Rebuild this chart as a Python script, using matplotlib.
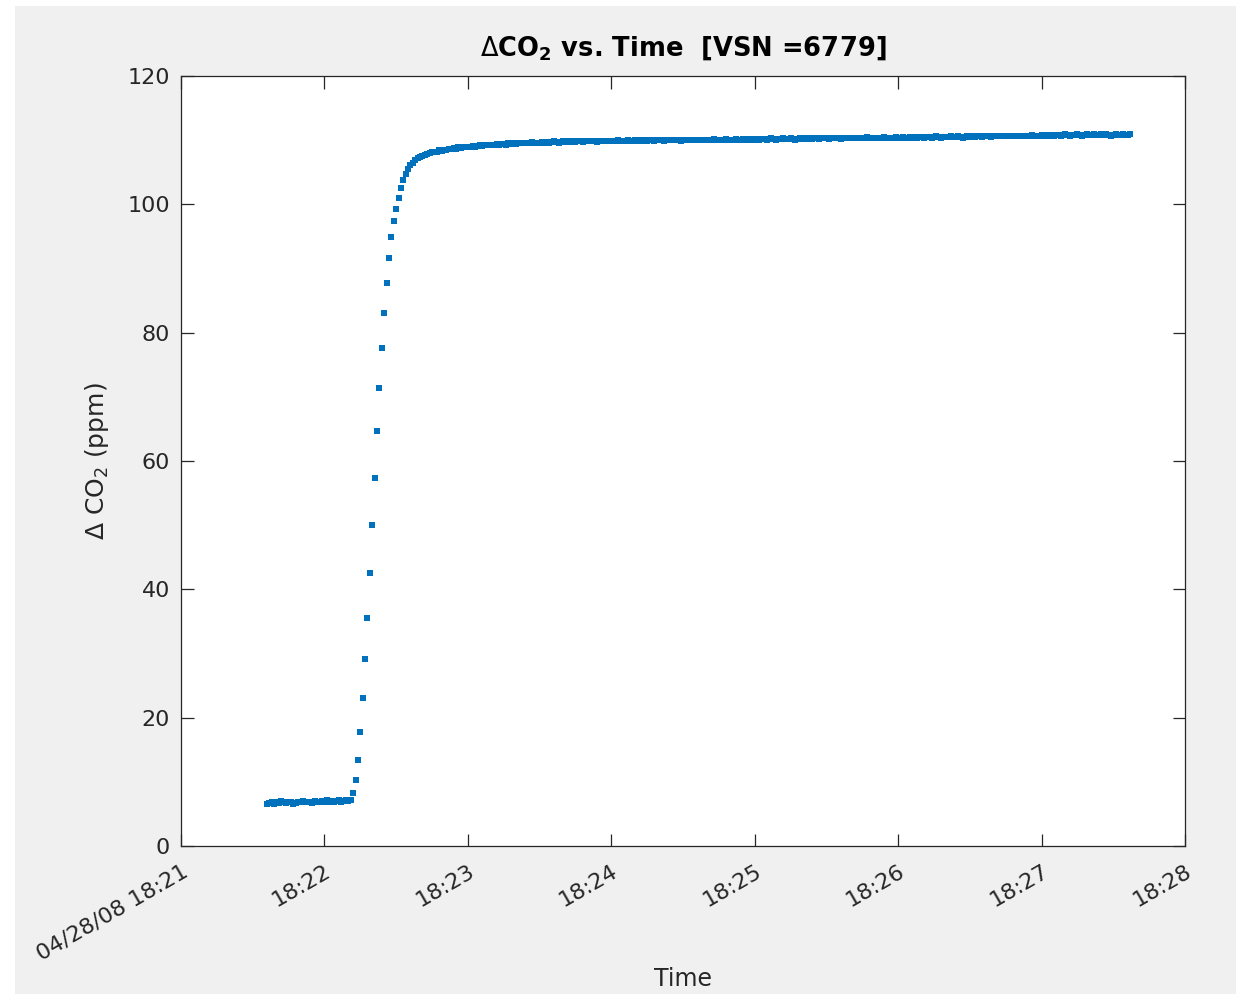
import pandas as pd
import matplotlib
matplotlib.use("Agg")
import matplotlib.pyplot as plt
import matplotlib.transforms as mtransforms
from matplotlib.patches import Rectangle

# sampling: one reading per second, first reading at 18:21:36
start_time = "2008-04-28 18:21:36"

baseline = [
    6.6, 6.7, 6.8, 6.6, 6.9, 6.7, 7.0, 6.8, 6.7, 6.9,
    6.8, 6.6, 6.7, 6.9, 6.8, 7.0, 6.9, 6.8, 6.9, 6.7,
    7.0, 6.9, 6.8, 7.0, 6.9, 7.1, 6.9, 7.0, 6.8, 7.0,
    7.1, 6.9, 7.0, 7.2, 7.0, 7.1,
]

rise = [
    8.2, 10.3, 13.4, 17.8, 23.0, 29.1, 35.6, 42.6, 50.0, 57.3,
    64.6, 71.4, 77.6, 83.0, 87.7, 91.6, 94.9, 97.4, 99.2, 101.0,
    102.5, 103.8, 104.8, 105.5, 106.1, 106.5, 106.9, 107.2, 107.4,
]

plateau = [
    107.6, 107.7, 107.9, 108.0, 108.1, 108.2, 108.2, 108.4, 108.3, 108.5,
    108.5, 108.6, 108.6, 108.8, 108.7, 108.9, 108.8, 108.9, 109.0, 108.9,
    109.0, 109.1, 109.0, 109.1, 109.2, 109.1, 109.2, 109.3, 109.2, 109.3,
    109.2, 109.4, 109.3, 109.4, 109.4, 109.3, 109.5, 109.4, 109.5, 109.4,
    109.5, 109.6, 109.5, 109.6, 109.5, 109.6, 109.7, 109.6, 109.5, 109.6,
    109.7, 109.6, 109.7, 109.6, 109.7, 109.8, 109.7, 109.6, 109.7, 109.8,
    109.7, 109.8, 109.7, 109.8, 109.7, 109.8, 109.8, 109.7, 109.9, 109.8,
    109.8, 109.9, 109.8, 109.7, 109.9, 109.8, 109.9, 109.8, 109.9, 109.8,
    109.9, 109.8, 110.0, 109.9, 109.8, 109.9, 110.0, 109.9, 109.9, 110.0,
    109.9, 110.0, 109.9, 110.0, 109.9, 110.0, 110.0, 109.9, 110.0, 110.1,
    110.0, 109.9, 110.0, 110.1, 110.0, 110.0, 110.1, 110.0, 109.9, 110.0,
    110.1, 110.0, 110.1, 110.0, 110.1, 110.0, 110.1, 110.1, 110.0, 110.1,
    110.0, 110.1, 110.2, 110.1, 110.0, 110.1, 110.1, 110.2, 110.1, 110.0,
    110.1, 110.2, 110.1, 110.1, 110.2, 110.1, 110.2, 110.1, 110.2, 110.1,
    110.2, 110.1, 110.2, 110.2, 110.1, 110.2, 110.3, 110.2, 110.1, 110.2,
    110.2, 110.3, 110.2, 110.2, 110.3, 110.2, 110.1, 110.2, 110.3, 110.2,
    110.3, 110.2, 110.3, 110.2, 110.3, 110.3, 110.2, 110.3, 110.4, 110.3,
    110.2, 110.3, 110.3, 110.4, 110.3, 110.2, 110.3, 110.4, 110.3, 110.3,
    110.4, 110.3, 110.4, 110.3, 110.3, 110.4, 110.5, 110.4, 110.3, 110.4,
    110.4, 110.3, 110.4, 110.5, 110.4, 110.4, 110.3, 110.4, 110.5, 110.4,
    110.4, 110.5, 110.4, 110.4, 110.5, 110.4, 110.5, 110.4, 110.5, 110.5,
    110.4, 110.5, 110.5, 110.4, 110.5, 110.6, 110.5, 110.4, 110.5, 110.5,
    110.5, 110.6, 110.5, 110.5, 110.6, 110.5, 110.4, 110.5, 110.6, 110.5,
    110.6, 110.5, 110.6, 110.6, 110.5, 110.6, 110.7, 110.6, 110.5, 110.6,
    110.6, 110.7, 110.6, 110.6, 110.7, 110.6, 110.7, 110.6, 110.7, 110.7,
    110.6, 110.7, 110.7, 110.6, 110.7, 110.8, 110.7, 110.6, 110.7, 110.8,
    110.7, 110.8, 110.7, 110.8, 110.7, 110.8, 110.8, 110.7, 110.8, 110.9,
    110.8, 110.7, 110.8, 110.8, 110.9, 110.8, 110.7, 110.8, 110.9, 110.8,
    110.8, 110.9, 110.8, 110.8, 110.9, 110.8, 110.9, 110.8, 110.7, 110.8,
    110.9, 110.8, 110.8, 110.9, 110.8, 110.8, 110.9,
]

tick_times = ["2008-04-28 18:21", "2008-04-28 18:22", "2008-04-28 18:23",
              "2008-04-28 18:24", "2008-04-28 18:25", "2008-04-28 18:26",
              "2008-04-28 18:27", "2008-04-28 18:28"]
tick_labels = ["04/28/08 18:21", "18:22", "18:23", "18:24",
               "18:25", "18:26", "18:27", "18:28"]
y_ticks = [0, 20, 40, 60, 80, 100, 120]

co2 = baseline + rise + plateau
times = pd.date_range(start_time, periods=len(co2), freq="s")

text_color = "#262626"

fig = plt.figure(figsize=(12.36, 9.94), dpi=100)
fig.patch.set_facecolor("white")
fig.patches.append(Rectangle((15 / 1236, 0.5 / 994), 1221 / 1236, 988 / 994,
                             transform=fig.transFigure, facecolor="#f0f0f0",
                             edgecolor="none", zorder=-10))

ax = fig.add_axes([181 / 1236, 1 - 846 / 994, 1004 / 1236, 770 / 994])
ax.plot(times, co2, linestyle="none", marker="s", markersize=3.9,
        markeredgewidth=0, color="#0072BD")

x_ticks = pd.to_datetime(tick_times)
ax.set_xlim(x_ticks[0], x_ticks[-1])
ax.set_ylim(0, 120)
ax.set_yticks(y_ticks)
ax.set_xticks(x_ticks)
ax.set_xticklabels(tick_labels, rotation=30, ha="right", va="top",
                   rotation_mode="anchor")
shift = mtransforms.ScaledTranslation(9 / 100, 0, fig.dpi_scale_trans)
for label in ax.get_xticklabels():
    label.set_transform(label.get_transform() + shift)

ax.tick_params(direction="in", length=9, width=0.9, top=True, right=True,
               labelsize=16, colors=text_color, pad=11)
ax.tick_params(axis="y", pad=8)
for spine in ax.spines.values():
    spine.set_color(text_color)
    spine.set_linewidth(0.9)

ax.set_title(r"$\Delta$CO$_\mathbf{2}$ vs. Time  [VSN =6779]", fontsize=18.5,
             fontweight="bold", color="black", pad=15)
ax.set_xlabel("Time", fontsize=17, color=text_color, labelpad=2)
ax.set_ylabel(r"Δ CO$_2$ (ppm)", fontsize=18, color=text_color, labelpad=12)

fig.savefig("out.png", dpi=100)
